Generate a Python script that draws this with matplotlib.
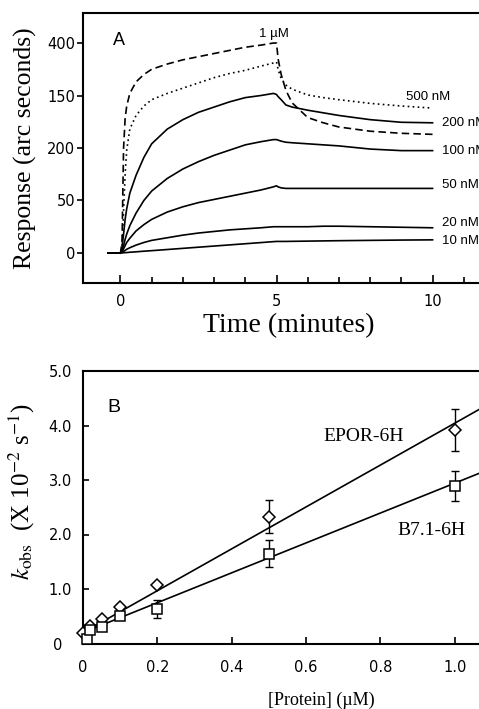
import matplotlib
matplotlib.use("Agg")
import matplotlib.pyplot as plt

# ---- panel A: sensorgram (response vs time) ----
t_min = [-0.4, 0, 0.05, 0.1, 0.15, 0.2, 0.3, 0.5, 0.75, 1, 1.5, 2, 2.5, 3, 3.5, 4, 4.5,
         4.9, 5.0, 5.05, 5.15, 5.3, 5.5, 6, 6.5, 7, 8, 9, 10]
resp_1uM = [0, 0, 10, 100, 128, 140, 152, 163, 170, 175, 180, 184, 187, 190, 193, 196, 198,
            200, 200, 185, 170, 155, 143, 129, 124, 120, 116, 114, 113]
resp_500nM = [0, 0, 4, 40, 75, 98, 118, 131, 140, 146, 152, 157, 162, 167, 171, 174, 178,
              181, 182, 175, 166, 160, 156, 150.5, 148, 146, 142.5, 140, 138]
resp_200nM = [0, 0, 5, 18, 32, 42, 57, 74, 91, 104, 118, 127, 134, 139, 144, 148, 150,
              152, 151, 149, 146, 141, 139, 136, 133.5, 131, 127, 124.5, 124]
resp_100nM = [0, 0, 2, 7, 13, 18, 26, 38, 50, 59, 71, 80, 87, 93, 98, 103, 106,
              108, 108, 107.5, 106.5, 105.5, 105, 104, 103, 102, 99, 97.5, 97.5]
resp_50nM = [0, 0, 1, 4, 7, 10, 14, 21, 27, 32, 39, 44, 48, 51, 54, 57, 60,
             63, 64, 63, 62, 61.5, 61.5, 61.5, 61.5, 61.5, 61.5, 61.5, 61.5]
resp_20nM = [0, 0, 0.5, 1.5, 2.5, 3.5, 5, 7.5, 10, 12, 14.5, 17, 19, 20.5, 22, 23, 24,
             25, 25, 25, 25, 25, 25, 25, 25.5, 25.5, 25, 24.5, 24]
resp_10nM = [0, 0, 0.1, 0.2, 0.3, 0.4, 0.7, 1.1, 1.7, 2.2, 3.3, 4.4, 5.5, 6.6, 7.7, 8.8, 9.9,
             10.8, 11, 11, 11, 11, 11.1, 11.3, 11.5, 11.7, 12, 12.3, 12.5]

curve_labels = ['1 µM', '500 nM', '200 nM', '100 nM', '50 nM', '20 nM', '10 nM']
resp_ticks = [0, 50, 100, 150, 200]
resp_tick_labels = ['0', '50', '200', '150', '400']
time_major = [0, 5, 10]
time_minor = [1, 2, 3, 4, 6, 7, 8, 9, 11]

# ---- panel B: k_obs vs protein concentration ----
epor_conc = [0, 0.02, 0.05, 0.1, 0.2, 0.5, 1.0]
epor_kobs = [0.20, 0.33, 0.45, 0.67, 1.07, 2.33, 3.92]
epor_err = [0, 0, 0, 0, 0, 0.30, 0.38]
b71_conc = [0.01, 0.02, 0.05, 0.1, 0.2, 0.5, 1.0]
b71_kobs = [0.08, 0.25, 0.30, 0.51, 0.63, 1.65, 2.89]
b71_err = [0, 0, 0, 0, 0.17, 0.25, 0.27]
fit_conc = [0, 1.2]
epor_fit = [0.20, 4.81]
b71_fit = [0.20, 3.49]

W, H = 479, 709
fig = plt.figure(figsize=(W / 100, H / 100), dpi=100)


def px_axes(left, top, right, bottom):
    return fig.add_axes([left / W, 1 - bottom / H, (right - left) / W, (bottom - top) / H])


sans = ['Liberation Sans', 'DejaVu Sans']
serif = ['Liberation Serif', 'DejaVu Serif']

# panel A
ax = px_axes(83, 13, 495, 283)
styles = [(0, (4.5, 2.5)), (0, (1, 2)), '-', '-', '-', '-', '-']
series = [resp_1uM, resp_500nM, resp_200nM, resp_100nM, resp_50nM, resp_20nM, resp_10nM]
for vals, ls in zip(series, styles):
    ax.plot(t_min, vals, color='black', lw=1.2, ls=ls)
ax.set_xlim(-1.2, 12)
ax.set_ylim(-28.6, 228.6)
ax.set_xticks(time_major)
ax.set_xticklabels([str(v) for v in time_major])
ax.set_xticks(time_minor, minor=True)
ax.set_yticks(resp_ticks)
ax.set_yticklabels(resp_tick_labels)
ax.tick_params(axis='x', which='major', direction='in', length=6, width=1.2, pad=8, labelsize=10.5)
ax.tick_params(axis='x', which='minor', direction='in', length=4.5, width=1.2)
ax.tick_params(axis='y', direction='out', length=4.5, width=1.2, pad=1, labelsize=10.5)
for s in ['left', 'bottom', 'top']:
    ax.spines[s].set_linewidth(1.5)
ax.spines['right'].set_visible(False)

ax.text(4.92, 209, curve_labels[0], ha='center', va='center', fontsize=9.5, family=sans)
ax.text(9.86, 149, curve_labels[1], ha='center', va='center', fontsize=9.5, family=sans)
label_y = [124, 97.5, 64.8, 28.9, 11.7]
for lab, yv in zip(curve_labels[2:], label_y):
    ax.text(10.29, yv, lab, ha='left', va='center', fontsize=9.5, family=sans)
ax.text(-0.25, 198, 'A', ha='left', va='baseline', fontsize=13, family=sans)

fig.text(25 / W, 1 - 148.5 / H, 'Response (arc seconds)', rotation=90, ha='center',
         va='center', fontsize=18.5, family=serif)
fig.text(288.5 / W, 1 - 332 / H, 'Time (minutes)', ha='center', va='baseline',
         fontsize=20, family=serif)

# panel B
bx = px_axes(83, 371, 529, 643.5)
bx.plot(fit_conc, epor_fit, color='black', lw=1.2, zorder=2)
bx.plot(fit_conc, b71_fit, color='black', lw=1.2, zorder=2)
ex = [c for c, e in zip(epor_conc, epor_err) if e > 0]
ey = [k for k, e in zip(epor_kobs, epor_err) if e > 0]
ee = [e for e in epor_err if e > 0]
bx.errorbar(ex, ey, yerr=ee, fmt='none', ecolor='black', elinewidth=1, capsize=3, capthick=1, zorder=3)
sx = [c for c, e in zip(b71_conc, b71_err) if e > 0]
sy = [k for k, e in zip(b71_kobs, b71_err) if e > 0]
se = [e for e in b71_err if e > 0]
bx.errorbar(sx, sy, yerr=se, fmt='none', ecolor='black', elinewidth=1, capsize=3, capthick=1, zorder=3)
bx.plot(epor_conc, epor_kobs, 'D', ms=6.5, mfc='white', mec='black', mew=1.1, zorder=4, clip_on=False)
bx.plot(b71_conc, b71_kobs, 's', ms=7, mfc='white', mec='black', mew=1.1, zorder=4, clip_on=False)
bx.set_xlim(0, 1.2)
bx.set_ylim(0, 5.0)
bx.set_xticks([0, 0.2, 0.4, 0.6, 0.8, 1.0])
bx.set_xticklabels(['0', '0.2', '0.4', '0.6', '0.8', '1.0'])
bx.set_yticks([0, 1, 2, 3, 4, 5])
bx.set_yticklabels(['0\u2007', '1.0', '2.0', '3.0', '4.0', '5.0'])
bx.tick_params(axis='x', direction='in', length=5, width=1.2, pad=12, labelsize=10.5)
bx.tick_params(axis='y', direction='in', length=4.5, width=1.2, pad=8, labelsize=10.5)
for s in ['left', 'bottom', 'top']:
    bx.spines[s].set_linewidth(1.5)
bx.spines['right'].set_visible(False)

bx.text(0.066, 4.25, 'B', ha='left', va='baseline', fontsize=14, family=sans)
bx.text(0.756, 3.79, 'EPOR-6H', ha='center', va='center', fontsize=14, family=serif)
bx.text(0.938, 2.08, 'B7.1-6H', ha='center', va='center', fontsize=14, family=serif)

fig.text(22 / W, 1 - 491.7 / H, r'$k_{\rm obs}$  (X 10$^{-2}$ s$^{-1}$)', rotation=90,
         ha='center', va='center', fontsize=18, family=serif, math_fontfamily='stix')
fig.text(321 / W, 1 - 705 / H, '[Protein] (µM)', ha='center', va='baseline',
         fontsize=13, family=serif)

fig.savefig('out.png', dpi=100)
